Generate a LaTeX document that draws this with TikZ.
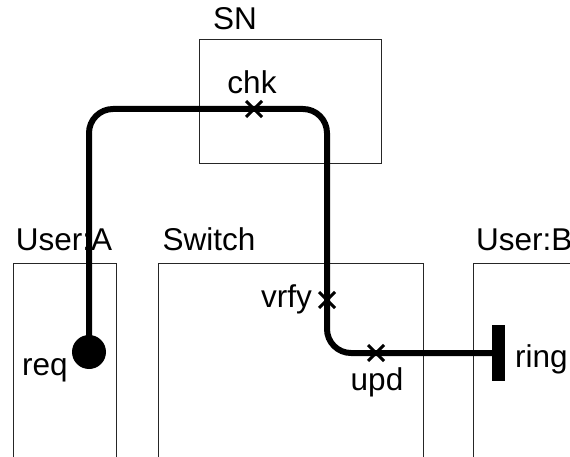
\documentclass[tikz,border=0pt]{standalone}
\usepackage{fontspec}
\setmainfont{Liberation Sans}
\begin{document}
\begin{tikzpicture}[x=1pt,y=-1pt,
  box/.style={draw=black!85,line width=1pt},
  lbl/.style={inner sep=0pt,anchor=base,font=\fontsize{31.5}{34}\selectfont},
  flow/.style={line width=6pt,rounded corners=24pt},
  xmark/.style={line width=3pt}]
\useasboundingbox (0,0) rectangle (570,457);
\clip (0,0) rectangle (570,457);
% boxes
\draw[box] (199,40) rectangle (381,164);
\draw[box] (13,470) -- (13,263) -- (116,263) -- (116,470);
\draw[box] (158,470) -- (158,263) -- (423,263) -- (423,470);
\draw[box] (473,470) -- (473,263) -- (600,263);
% box labels
\node[lbl] (sn) at (235,30) {SN};
\node[lbl] (ua) at (64,251) {User:A};
\node[lbl] (sw) at (209,251) {Switch};
\node[lbl,anchor=base west] (ub) at (476,251) {User:B};
% endpoints
\coordinate (reqpt) at (89,352);
\coordinate (ringpt) at (497,353);
\coordinate (chkpt) at (254,109);
\coordinate (vrfypt) at (327,300);
\coordinate (updpt) at (376,353);
% flow path
\draw[flow] (reqpt) -- (89,109) -- (327,109) -- (327,353) -- (ringpt);
\fill (reqpt) circle (17);
\node[fill=black,inner sep=0pt,minimum width=13pt,minimum height=56pt] (ring) at (498.5,353) {};
% cross marks
\foreach \p in {chkpt,vrfypt,updpt}{
  \draw[xmark] ([shift={(-8,-8)}]\p) -- ([shift={(8,8)}]\p)
               ([shift={(-8,8)}]\p) -- ([shift={(8,-8)}]\p);
}
% point labels
\node[lbl] (chk) at (252,94) {chk};
\node[lbl,anchor=base east] (vrfy) at (312,307) {vrfy};
\node[lbl] (upd) at (377,390) {upd};
\node[lbl,anchor=base west] (ringl) at (515,367) {ring};
\node[lbl,anchor=base west] (req) at (22,375) {req};
\end{tikzpicture}
\end{document}
